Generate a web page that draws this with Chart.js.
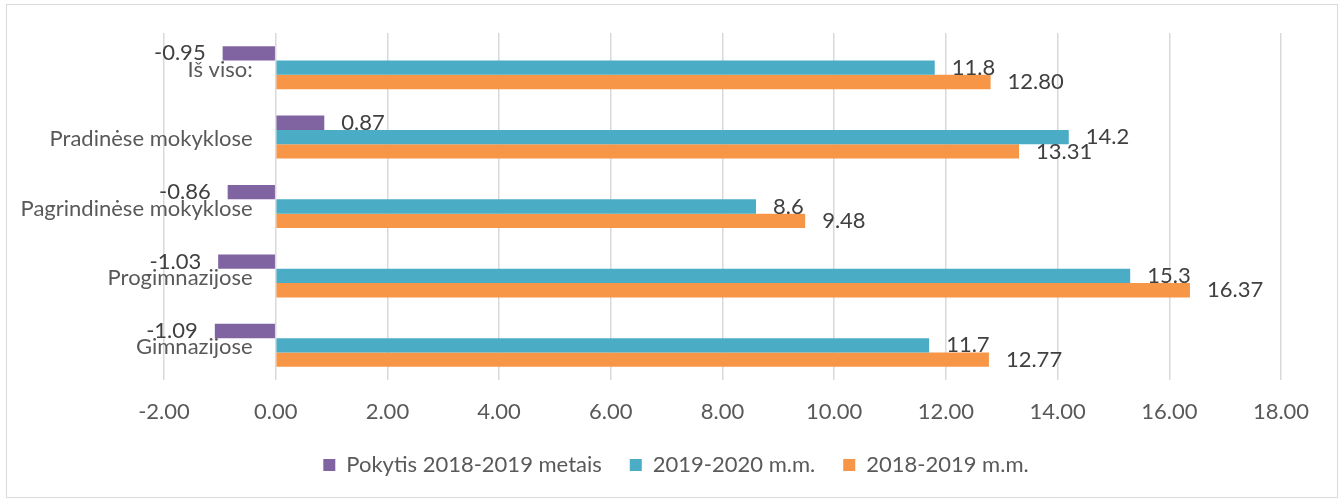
<!DOCTYPE html>
<html>
<head>
<meta charset="utf-8">
<script src="https://cdn.jsdelivr.net/npm/chart.js@4.4.1/dist/chart.umd.min.js"></script>
<style>
    body { margin: 0; background: #fff; }
    #wrap { position: relative; width: 1343px; height: 500px; }
    #frame { position: absolute; left: 6px; top: 4px; width: 1330px; height: 492px; border: 1px solid #d9d9d9; pointer-events: none; }
</style>
</head>
<body>
<div id="wrap">
    <canvas id="myChart" width="1343" height="500"></canvas>
    <div id="frame"></div>
</div>
<script>
var categories = ['Iš viso:', 'Pradinėse mokyklose', 'Pagrindinėse mokyklose', 'Progimnazijose', 'Gimnazijose'];
var seriesNames = ['Pokytis 2018-2019 metais', '2019-2020 m.m.', '2018-2019 m.m.'];
var pokytis = [-0.95, 0.87, -0.86, -1.03, -1.09];
var mm2019_2020 = [11.8, 14.2, 8.6, 15.3, 11.7];
var mm2018_2019 = [12.80, 13.31, 9.48, 16.37, 12.77];
var labelDecimals = [2, 1, 2];
var xMin = -2, xMax = 18, xStep = 2;

var fontFamily = 'Lato, "Open Sans", sans-serif';
var fontSize = 22;

// category names sit left of the 0 line (excel style), chart.js would clip them to the axis box
var categoryLabels = {
    id: 'categoryLabels',
    beforeDatasetsDraw: function (chart) {
        var ctx = chart.ctx;
        var yScale = chart.scales.y;
        var xScale = chart.scales.x;
        var right = xScale.getPixelForValue(0) - 23;
        ctx.save();
        ctx.font = fontSize + 'px ' + fontFamily;
        ctx.fillStyle = '#595959';
        ctx.textAlign = 'right';
        ctx.textBaseline = 'middle';
        yScale.getLabels().forEach(function (lbl, i) {
            ctx.fillText(lbl, right, yScale.getPixelForTick(i) + 2);
        });
        ctx.restore();
    }
};

// value labels at the end of each bar
var barLabels = {
    id: 'barLabels',
    afterDatasetsDraw: function (chart) {
        var ctx = chart.ctx;
        ctx.save();
        ctx.font = fontSize + 'px ' + fontFamily;
        ctx.fillStyle = '#404040';
        ctx.textBaseline = 'middle';
        chart.data.datasets.forEach(function (ds, i) {
            var meta = chart.getDatasetMeta(i);
            meta.data.forEach(function (bar, j) {
                var v = ds.data[j];
                var txt = v.toFixed(labelDecimals[i]);
                if (v < 0) {
                    ctx.textAlign = 'right';
                    ctx.fillText(txt, bar.x - 17, bar.y);
                } else {
                    ctx.textAlign = 'left';
                    ctx.fillText(txt, bar.x + 17, bar.y);
                }
            });
        });
        ctx.restore();
    }
};

function createChart() {
    var ctx = document.getElementById('myChart').getContext('2d');
    return new Chart(ctx, {
        type: 'bar',
        data: {
            labels: categories,
            datasets: [{
                label: seriesNames[0],
                data: pokytis,
                backgroundColor: '#8064A2'
            }, {
                label: seriesNames[1],
                data: mm2019_2020,
                backgroundColor: '#4BACC6'
            }, {
                label: seriesNames[2],
                data: mm2018_2019,
                backgroundColor: '#F79646'
            }]
        },
        options: {
            indexAxis: 'y',
            responsive: false,
            animation: false,
            categoryPercentage: 0.62,
            barPercentage: 1,
            layout: {
                padding: { left: 71, right: 62, top: 33, bottom: 14 }
            },
            scales: {
                x: {
                    min: xMin,
                    max: xMax,
                    // chart.js reserves the tick padding twice, keep only the top one
                    afterFit: function (scale) { scale.height = 46; },
                    ticks: {
                        stepSize: xStep,
                        padding: 19,
                        color: '#595959',
                        font: { family: fontFamily, size: fontSize },
                        callback: function (v) { return v.toFixed(2); }
                    },
                    grid: { color: '#d9d9d9', lineWidth: 1.5, drawTicks: false },
                    border: { display: false }
                },
                y: {
                    position: 'left',
                    afterFit: function (scale) { scale.width = 93; },
                    ticks: { display: false },
                    grid: { display: false, drawTicks: false },
                    border: { display: false }
                }
            },
            plugins: {
                legend: {
                    position: 'bottom',
                    labels: {
                        boxWidth: 12,
                        boxHeight: 12,
                        padding: 28,
                        color: '#595959',
                        font: { family: fontFamily, size: fontSize }
                    }
                },
                tooltip: { enabled: false }
            }
        },
        plugins: [categoryLabels, barLabels]
    });
}

var myChart = createChart();
</script>
</body>
</html>
